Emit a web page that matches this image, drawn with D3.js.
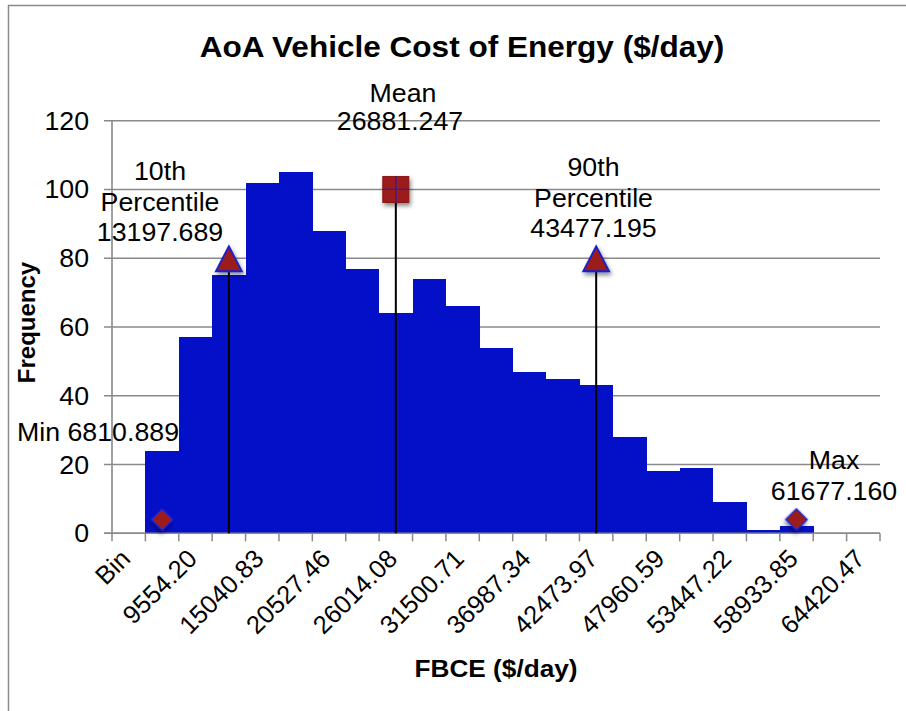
<!DOCTYPE html>
<html>
<head>
<meta charset="utf-8">
<script src="https://cdn.jsdelivr.net/npm/d3@7"></script>
<style>
  body { margin: 0; background: #fff; }
  text { font-family: "Liberation Sans", Arial, sans-serif; fill: #000; }
</style>
</head>
<body>
<svg id="chart" width="906" height="711"></svg>
<script>
// histogram bins (category labels) and counts
var bins = ["Bin", "6810.89", "9554.20", "12297.52", "15040.83", "17784.14", "20527.46",
            "23270.77", "26014.08", "28757.40", "31500.71", "34244.02", "36987.34",
            "39730.65", "42473.97", "45217.28", "47960.59", "50703.91", "53447.22",
            "56190.53", "58933.85", "61677.16", "64420.47"];
var counts = [0, 24, 57, 75, 102, 105, 88, 77, 64, 74, 66, 54, 47, 45, 43, 28, 18, 19, 9, 1, 2, 0, 0];
var yTicks = [0, 20, 40, 60, 80, 100, 120];

// summary statistic markers
var markerNames = ["Min", "10th", "Mean", "90th", "Max"];
var markerValues = [6810.889, 13197.689, 26881.247, 43477.195, 61677.160];
var markerBins = ["6810.89", "12297.52", "26014.08", "42473.97", "58933.85"];
var markerFreq = [4, 80, 100, 80, 4];

var svg = d3.select("#chart");
var sx = 1.07; // picture is a bit wider than tall

var margin = {left: 112, right: 26, top: 120.7},
    plotBottom = 533.3;

var x = d3.scaleBand()
    .domain(bins)
    .range([margin.left, 906 - margin.right])
    .paddingInner(0)
    .paddingOuter(0);

var y = d3.scaleLinear()
    .domain([0, 120])
    .range([plotBottom, margin.top]);

var grey = "#8a8a8a";

// stretched text helper
function label(g, px, py, str, opts) {
  opts = opts || {};
  var stretch = opts.rotate ? "" : " scale(" + sx + ",1)";
  return g.append("text")
    .attr("transform", "translate(" + px + "," + py + ")" + stretch + (opts.rotate ? " rotate(" + opts.rotate + ")" : ""))
    .attr("text-anchor", opts.anchor || "middle")
    .attr("dy", opts.dy || 0)
    .style("font-size", (opts.size || 25) + "px")
    .style("font-weight", opts.bold ? "bold" : "normal")
    .text(str);
}

var defs = svg.append("defs");
var f = defs.append("filter").attr("id", "shadow").attr("x", "-50%").attr("y", "-50%").attr("width", "200%").attr("height", "200%");
f.append("feDropShadow").attr("dx", 1.5).attr("dy", 3).attr("stdDeviation", 2).attr("flood-color", "#000").attr("flood-opacity", 0.45);

// chart border
svg.append("path")
    .attr("d", "M8.5,711V5.5H906")
    .attr("fill", "none")
    .attr("stroke", grey)
    .attr("stroke-width", 1.5);

// gridlines
svg.append("g").selectAll("line")
    .data(yTicks)
  .enter().append("line")
    .attr("x1", margin.left - 8)
    .attr("x2", 906 - margin.right)
    .attr("y1", function(d) { return y(d); })
    .attr("y2", function(d) { return y(d); })
    .attr("stroke", grey)
    .attr("stroke-width", 1.6);

// bars
svg.append("g").selectAll("rect")
    .data(counts)
  .enter().append("rect")
    .attr("x", function(d, i) { return x(bins[i]); })
    .attr("width", x.bandwidth() + 0.3)
    .attr("y", function(d) { return y(d); })
    .attr("height", function(d) { return y(0) - y(d); })
    .attr("fill", "#0410c8")
    .attr("shape-rendering", "crispEdges");

// axes lines
svg.append("line")
    .attr("x1", margin.left).attr("x2", margin.left)
    .attr("y1", y(120)).attr("y2", y(0))
    .attr("stroke", grey).attr("stroke-width", 1.6);
svg.append("line")
    .attr("x1", margin.left - 8).attr("x2", 906 - margin.right)
    .attr("y1", y(0)).attr("y2", y(0))
    .attr("stroke", grey).attr("stroke-width", 1.6);

// x tick marks at bin boundaries
var edges = bins.map(function(b) { return x(b); }).concat([x.range()[1]]);
svg.append("g").selectAll("line")
    .data(edges)
  .enter().append("line")
    .attr("x1", function(d) { return d; })
    .attr("x2", function(d) { return d; })
    .attr("y1", y(0))
    .attr("y2", y(0) + 8)
    .attr("stroke", grey)
    .attr("stroke-width", 1.5);

// y tick labels
var yl = svg.append("g");
yTicks.forEach(function(t) {
  label(yl, 89, y(t), t, {anchor: "end", dy: "0.36em"});
});

// x tick labels, every other bin
var xl = svg.append("g");
bins.forEach(function(b, i) {
  if (i % 2 !== 0) return;
  label(xl, x(b) + x.bandwidth() / 2 + 3, y(0) + 27, b, {anchor: "end", rotate: -45, size: 25.5});
});

// drop lines
var drop = svg.append("g");
markerNames.forEach(function(n, i) {
  if (n === "Min" || n === "Max") return;
  var cx = x(markerBins[i]) + x.bandwidth() / 2;
  drop.append("line")
      .attr("x1", cx).attr("x2", cx)
      .attr("y1", y(markerFreq[i])).attr("y2", y(0))
      .attr("stroke", "#000").attr("stroke-width", 2);
});

// markers
var red = "#9c1a1c", blue = "#1520d0";
var mk = svg.append("g");
markerNames.forEach(function(n, i) {
  var cx = x(markerBins[i]) + x.bandwidth() / 2,
      cy = y(markerFreq[i]);
  var g = mk.append("g").attr("transform", "translate(" + cx + "," + cy + ")");
  if (n === "Min" || n === "Max") {
    g.append("path")
        .attr("d", d3.symbol(d3.symbolSquare, 230)())
        .attr("transform", "rotate(45)")
        .attr("fill", red).attr("stroke", blue).attr("stroke-width", 1.5)
        .attr("filter", "url(#shadow)");
  } else if (n === "Mean") {
    g.append("rect")
        .attr("x", -13).attr("y", -13).attr("width", 26).attr("height", 26)
        .attr("fill", red).attr("stroke", "#861416").attr("stroke-width", 1)
        .attr("filter", "url(#shadow)");
    g.append("path")
        .attr("d", "M-13,0H13M0,-13V13")
        .attr("stroke", blue).attr("stroke-width", 1.3);
  } else {
    g.append("path")
        .attr("d", "M0,-12L13,13L-13,13Z")
        .attr("fill", red).attr("stroke", blue).attr("stroke-width", 1.8)
        .attr("stroke-linejoin", "miter")
        .attr("filter", "url(#shadow)");
  }
});

// marker annotations
var ann = svg.append("g");
label(ann, 17, 441, markerNames[0] + " " + markerValues[0].toFixed(3), {anchor: "start"});
label(ann, 160, 180, markerNames[1]);
label(ann, 160, 210.5, "Percentile");
label(ann, 160, 241, markerValues[1].toFixed(3));
label(ann, 403, 102, markerNames[2]);
label(ann, 400, 130, markerValues[2].toFixed(3));
label(ann, 593.5, 176, markerNames[3]);
label(ann, 593.5, 207, "Percentile");
label(ann, 593.5, 237, markerValues[3].toFixed(3));
label(ann, 834, 469, markerNames[4]);
label(ann, 834, 500, markerValues[4].toFixed(3));

// titles
label(svg, 462, 57, "AoA Vehicle Cost of Energy ($/day)", {size: 29.5, bold: true});
label(svg, 496, 677, "FBCE ($/day)", {size: 24.5, bold: true});
svg.append("text")
    .attr("transform", "translate(35,322.5) rotate(-90)")
    .attr("text-anchor", "middle")
    .style("font-size", "24px")
    .style("font-weight", "bold")
    .text("Frequency");
</script>
</body>
</html>
